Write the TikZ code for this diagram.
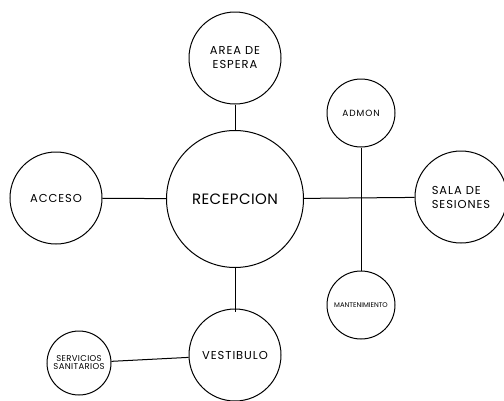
\documentclass[tikz,border=0pt]{standalone}
\usepackage{fontspec}
\setmainfont{Poppins}
\usetikzlibrary{positioning}

\begin{document}
\begin{tikzpicture}[x=1pt, y=-1pt,
    room/.style={draw, circle, line width=1pt, align=center, inner sep=0pt,
                 minimum size=92pt, font=\fontsize{11.5}{14}\selectfont\addfontfeature{LetterSpace=8}},
    small/.style={minimum size=68pt},
    link/.style={line width=1pt}]
  \useasboundingbox (0,0) rectangle (504,400);
  % centre
  \node[room, minimum size=137pt, font=\fontsize{15}{15}\selectfont\addfontfeature{LetterSpace=3}] (recepcion) at (235,199) {RECEPCION};
  % around it
  \node[room] (espera) at (235,58) {AREA DE\\ESPERA};
  \node[room] (acceso) at (56,198) {ACCESO};
  \node[room, align=left] (sala) at (461,197) {SALA DE\\SESIONES};
  \node[room] (vestibulo) at (235,355) {VESTIBULO};
  \node[room, small, font=\fontsize{9}{9}\selectfont\addfontfeature{LetterSpace=10}] (admon) at (361,113) {ADMON};
  \node[room, small, font=\fontsize{6.8}{6.8}\selectfont] (mantenimiento) at (361,305) {MANTENIMIENTO};
  \node[room, small, minimum size=64pt, font=\fontsize{8.5}{8}\selectfont\addfontfeature{LetterSpace=4}] (servicios) at (79,363) {SERVICIOS\\SANITARIOS};

  \draw[link] (espera) -- (recepcion);
  \draw[link] (acceso) -- (recepcion);
  \draw[link] (recepcion) -- (sala);
  \draw[link] (admon) -- (mantenimiento);
  \draw[link] (recepcion) -- ([yshift=-3pt]vestibulo.north);
  \draw[link] (servicios) -- (vestibulo);
\end{tikzpicture}
\end{document}
